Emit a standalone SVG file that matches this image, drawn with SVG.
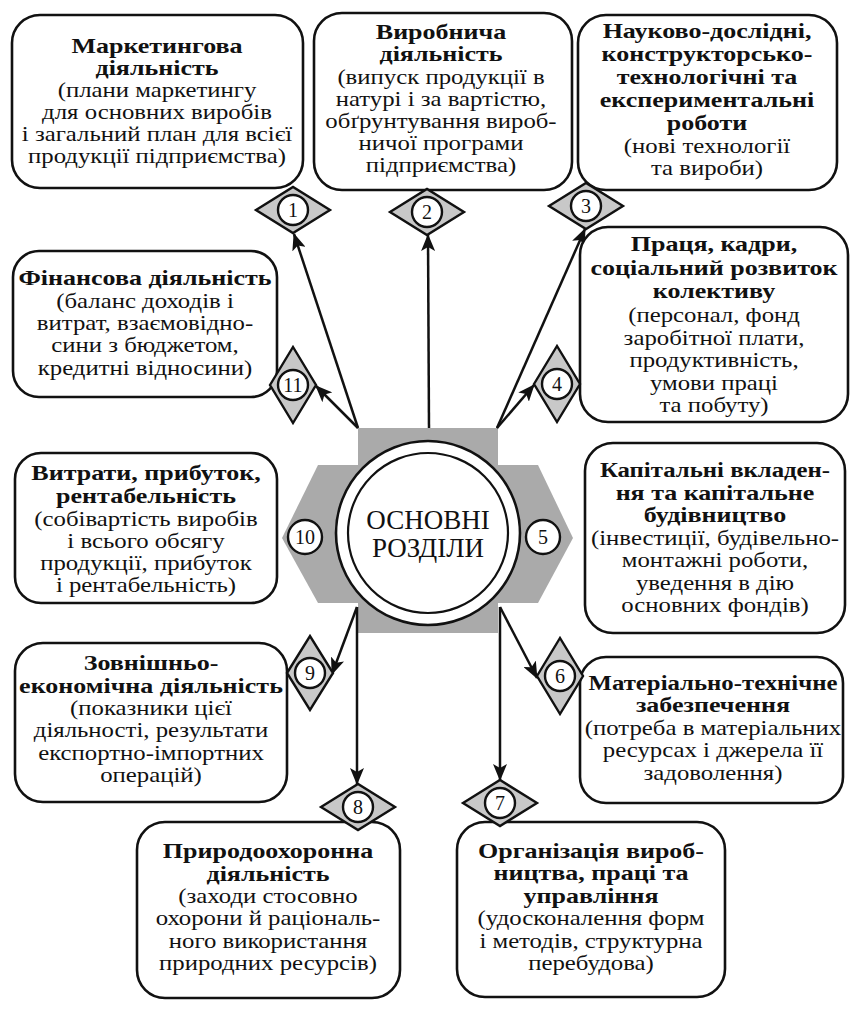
<svg xmlns="http://www.w3.org/2000/svg" width="862" height="1009" viewBox="0 0 862 1009" font-family="'Liberation Serif', 'Times New Roman', serif">
<defs>
<style>
.box{fill:#fff;stroke:#111;stroke-width:2.6}
text{font-family:'Liberation Serif','Times New Roman',serif}
.t{font-size:21px;fill:#111;text-anchor:middle}
.b{font-weight:bold;transform:scaleX(1.05)}
.b.n{transform:scaleX(1.0)}
.num{font-size:20px;fill:#111;text-anchor:middle}
.dia{fill:#c8c8c8;stroke:#111;stroke-width:2.4;stroke-linejoin:miter}
.nc{fill:#fff;stroke:#111;stroke-width:2.4}
.con{stroke:#111;stroke-width:2.5;fill:none;marker-end:url(#ah)}
</style>
<marker id="ah" markerUnits="userSpaceOnUse" markerWidth="18" markerHeight="14" refX="16" refY="7" orient="auto">
<path d="M0,0 L17,7 L0,14 L4,7 Z" fill="#111"/>
</marker>
</defs>
<rect width="862" height="1009" fill="#fff"/>

<g id="center">
<rect x="358" y="428" width="140" height="205" fill="#aaa"/>
<polygon points="282,538 318,465 538,465 573,538 538,603 318,603" fill="#aaa"/>
<circle cx="428" cy="533" r="92" fill="#fff" stroke="#111" stroke-width="2.6"/>
<circle cx="428" cy="533" r="80" fill="#fff" stroke="#111" stroke-width="2.2"/>
<text class="t" x="428" y="529" style="font-size:27px">ОСНОВНІ</text>
<text class="t" x="428" y="557" style="font-size:27px">РОЗДІЛИ</text>
<circle class="nc" cx="305" cy="537" r="17"/>
<text class="num" x="305" y="544">10</text>
<circle class="nc" cx="543" cy="537" r="17"/>
<text class="num" x="543" y="544">5</text>
</g>

<g id="connectors">
<line class="con" x1="358" y1="428" x2="294" y2="234"/>
<line class="con" x1="429" y1="428" x2="428" y2="235"/>
<line class="con" x1="497" y1="428" x2="585" y2="229"/>
<line class="con" x1="497" y1="428" x2="534" y2="385"/>
<line class="con" x1="358" y1="428" x2="316" y2="386"/>
<line class="con" x1="357" y1="607" x2="332" y2="674"/>
<line class="con" x1="357" y1="607" x2="357" y2="784"/>
<line class="con" x1="500" y1="607" x2="500" y2="780"/>
<line class="con" x1="500" y1="607" x2="537" y2="678"/>
</g>

<g id="node1">
<rect class="box" x="12" y="15" width="291" height="173" rx="28"/>
<g transform="translate(157 0) scale(1.18 1)">
<text class="t b" x="0" y="53">Маркетингова</text>
<text class="t b" x="0" y="75">діяльність</text>
<text class="t" x="0" y="97">(плани маркетингу</text>
<text class="t" x="0" y="119">для основних виробів</text>
<text class="t" x="0" y="141">і загальний план для всієї</text>
<text class="t" x="0" y="163">продукції підприємства)</text>
</g>
</g>
<g id="m1">
<polygon class="dia" points="256,210 293,187 330,210 293,233"/>
<circle class="nc" cx="293" cy="210" r="15"/>
<text class="num" x="293" y="217">1</text>
</g>

<g id="node2">
<rect class="box" x="314" y="13" width="258" height="177" rx="28"/>
<g transform="translate(441 0) scale(1.18 1)">
<text class="t b" x="0" y="39">Виробнича</text>
<text class="t b" x="0" y="61">діяльність</text>
<text class="t" x="0" y="84">(випуск продукції в</text>
<text class="t" x="0" y="106">натурі і за вартістю,</text>
<text class="t" x="0" y="128">обґрунтування вироб-</text>
<text class="t" x="0" y="150">ничої програми</text>
<text class="t" x="0" y="172">підприємства)</text>
</g>
</g>
<g id="m2">
<polygon class="dia" points="390,212 427,189 464,212 427,235"/>
<circle class="nc" cx="427" cy="212" r="15"/>
<text class="num" x="427" y="219">2</text>
</g>

<g id="node3">
<rect class="box" x="578" y="15" width="259" height="175" rx="28"/>
<g transform="translate(707 0) scale(1.18 1)">
<text class="t b" x="0" y="38">Науково-дослідні,</text>
<text class="t b" x="0" y="61">конструкторсько-</text>
<text class="t b" x="0" y="84">технологічні та</text>
<text class="t b" x="0" y="107">експериментальні</text>
<text class="t b" x="0" y="130">роботи</text>
<text class="t" x="0" y="153">(нові технології</text>
<text class="t" x="0" y="175">та вироби)</text>
</g>
</g>
<g id="m3">
<polygon class="dia" points="549,206 586,183 623,206 586,229"/>
<circle class="nc" cx="586" cy="206" r="15"/>
<text class="num" x="586" y="213">3</text>
</g>

<g id="node4">
<rect class="box" x="580" y="227" width="268" height="195" rx="28"/>
<g transform="translate(714 0) scale(1.18 1)">
<text class="t b" x="0" y="251">Праця, кадри,</text>
<text class="t b" x="0" y="275">соціальний розвиток</text>
<text class="t b" x="0" y="298">колективу</text>
<text class="t" x="0" y="322">(персонал, фонд</text>
<text class="t" x="0" y="345">заробітної плати,</text>
<text class="t" x="0" y="367">продуктивність,</text>
<text class="t" x="0" y="390">умови праці</text>
<text class="t" x="0" y="412">та побуту)</text>
</g>
</g>
<g id="m4">
<polygon class="dia" points="534,384 557,346 580,384 557,422"/>
<circle class="nc" cx="557" cy="384" r="15"/>
<text class="num" x="557" y="391">4</text>
</g>

<g id="node11">
<rect class="box" x="13" y="251" width="264" height="146" rx="26"/>
<g transform="translate(145 0) scale(1.18 1)">
<text class="t b" x="0" y="285">Фінансова діяльність</text>
<text class="t" x="0" y="308">(баланс доходів і</text>
<text class="t" x="0" y="330">витрат, взаємовідно-</text>
<text class="t" x="0" y="352">сини з бюджетом,</text>
<text class="t" x="0" y="375">кредитні відносини)</text>
</g>
</g>
<g id="m11">
<polygon class="dia" points="270,385 293,347 316,385 293,423"/>
<circle class="nc" cx="293" cy="385" r="15"/>
<text class="num" x="293" y="392">11</text>
</g>

<g id="node10">
<rect class="box" x="15" y="453" width="262" height="150" rx="26"/>
<g transform="translate(146 0) scale(1.18 1)">
<text class="t b" x="0" y="480">Витрати, прибуток,</text>
<text class="t b" x="0" y="503">рентабельність</text>
<text class="t" x="0" y="526">(собівартість виробів</text>
<text class="t" x="0" y="548">і всього обсягу</text>
<text class="t" x="0" y="570">продукції, прибуток</text>
<text class="t" x="0" y="592">і рентабельність)</text>
</g>
</g>

<g id="node5">
<rect class="box" x="585" y="443" width="260" height="190" rx="28"/>
<g transform="translate(715 0) scale(1.18 1)">
<text class="t b n" x="0" y="477">Капітальні вкладен-</text>
<text class="t b" x="0" y="500">ня та капітальне</text>
<text class="t b" x="0" y="522">будівництво</text>
<text class="t" x="0" y="545">(інвестиції, будівельно-</text>
<text class="t" x="0" y="567">монтажні роботи,</text>
<text class="t" x="0" y="590">уведення в дію</text>
<text class="t" x="0" y="612">основних фондів)</text>
</g>
</g>

<g id="node9">
<rect class="box" x="15" y="643" width="272" height="159" rx="28"/>
<g transform="translate(151 0) scale(1.18 1)">
<text class="t b" x="0" y="670">Зовнішньо-</text>
<text class="t b" x="0" y="693">економічна діяльність</text>
<text class="t" x="0" y="715">(показники цієї</text>
<text class="t" x="0" y="737">діяльності, результати</text>
<text class="t" x="0" y="760">експортно-імпортних</text>
<text class="t" x="0" y="782">операцій)</text>
</g>
</g>
<g id="m9">
<polygon class="dia" points="287,673 310,636 333,673 310,710"/>
<circle class="nc" cx="310" cy="673" r="15"/>
<text class="num" x="310" y="680">9</text>
</g>

<g id="node6">
<rect class="box" x="580" y="657" width="263" height="146" rx="26"/>
<g transform="translate(713 0) scale(1.18 1)">
<text class="t b n" x="0" y="690">Матеріально-технічне</text>
<text class="t b" x="0" y="712">забезпечення</text>
<text class="t" x="0" y="735">(потреба в матеріальних</text>
<text class="t" x="0" y="757">ресурсах і джерела її</text>
<text class="t" x="0" y="780">задоволення)</text>
</g>
</g>
<g id="m6">
<polygon class="dia" points="537,676 560,638 583,676 560,714"/>
<circle class="nc" cx="560" cy="676" r="15"/>
<text class="num" x="560" y="683">6</text>
</g>

<g id="node8">
<rect class="box" x="137" y="822" width="263" height="176" rx="28"/>
<g transform="translate(268 0) scale(1.18 1)">
<text class="t b" x="0" y="858">Природоохоронна</text>
<text class="t b" x="0" y="881">діяльність</text>
<text class="t" x="0" y="903">(заходи стосовно</text>
<text class="t" x="0" y="925">охорони й раціональ-</text>
<text class="t" x="0" y="948">ного використання</text>
<text class="t" x="0" y="970">природних ресурсів)</text>
</g>
</g>
<g id="m8">
<polygon class="dia" points="321,807 358,784 395,807 358,830"/>
<circle class="nc" cx="358" cy="807" r="15"/>
<text class="num" x="358" y="814">8</text>
</g>

<g id="node7">
<rect class="box" x="457" y="822" width="268" height="175" rx="28"/>
<g transform="translate(591 0) scale(1.18 1)">
<text class="t b" x="0" y="858">Організація вироб-</text>
<text class="t b" x="0" y="880">ництва, праці та</text>
<text class="t b" x="0" y="903">управління</text>
<text class="t" x="0" y="925">(удосконалення форм</text>
<text class="t" x="0" y="948">і методів, структурна</text>
<text class="t" x="0" y="970">перебудова)</text>
</g>
</g>
<g id="m7">
<polygon class="dia" points="463,803 500,780 537,803 500,826"/>
<circle class="nc" cx="500" cy="803" r="15"/>
<text class="num" x="500" y="810">7</text>
</g>
</svg>
